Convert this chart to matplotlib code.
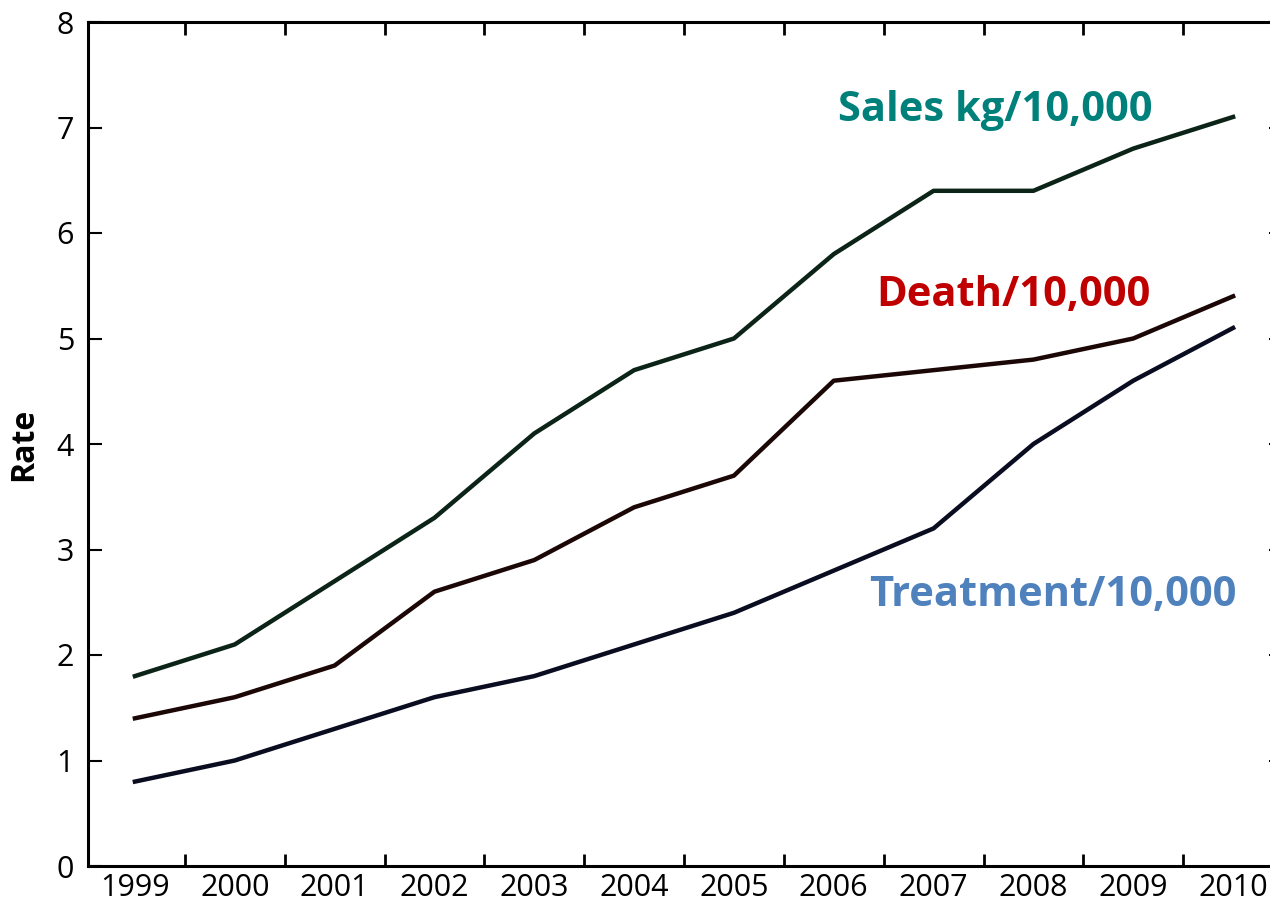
import numpy as np
import matplotlib.pyplot as plt
from matplotlib.ticker import FixedLocator, NullFormatter

years = ['1999', '2000', '2001', '2002', '2003', '2004',
         '2005', '2006', '2007', '2008', '2009', '2010']
sales = [1.8, 2.1, 2.7, 3.3, 4.1, 4.7, 5.0, 5.8, 6.4, 6.4, 6.8, 7.1]
death = [1.4, 1.6, 1.9, 2.6, 2.9, 3.4, 3.7, 4.6, 4.7, 4.8, 5.0, 5.4]
treatment = [0.8, 1.0, 1.3, 1.6, 1.8, 2.1, 2.4, 2.8, 3.2, 4.0, 4.6, 5.1]


def plot_chart():
    fig = plt.figure(figsize=(12.7, 9.06), dpi=100)
    ax = fig.add_axes([88 / 1270, 1 - 866 / 906, (1283 - 88) / 1270, (866 - 22) / 906])

    x = np.arange(len(years))
    lw = 3.2
    ax.plot(x, sales, color='#0c2418', lw=lw, solid_joinstyle='round')
    ax.plot(x, death, color='#1c0707', lw=lw, solid_joinstyle='round')
    ax.plot(x, treatment, color='#0a0c20', lw=lw, solid_joinstyle='round')

    # series labels
    lbl = dict(fontsize=30, fontweight='bold', family='Open Sans',
               ha='center', va='center')
    ax.text(8.62, 7.16, 'Sales kg/10,000', color='#00807a', **lbl)
    ax.text(8.80, 5.41, 'Death/10,000', color='#c00000', **lbl)
    ax.text(9.19, 2.56, 'Treatment/10,000', color='#4f81bd', **lbl)

    ax.set_xlim(-0.47, 11.5)
    ax.set_ylim(0, 8)

    # ticks sit between years, labels at the year centres
    ax.xaxis.set_major_locator(FixedLocator(x[:-1] + 0.5))
    ax.xaxis.set_major_formatter(NullFormatter())
    ax.xaxis.set_minor_locator(FixedLocator(x))
    ax.set_xticklabels(years, minor=True)
    ax.tick_params(axis='x', which='major', direction='in', length=9, width=2,
                   top=True, bottom=True)
    ax.tick_params(axis='x', which='minor', length=0, pad=5, labelsize=22)

    ax.set_yticks(range(0, 9))
    ax.tick_params(axis='y', direction='in', length=10, width=1.5,
                   left=True, right=True, labelsize=22, pad=10)

    for lab in ax.get_xticklabels(minor=True) + ax.get_yticklabels():
        lab.set_family('Open Sans')
        lab.set_fontweight('medium')

    for s in ax.spines.values():
        s.set_linewidth(2.2)

    ax.set_ylabel('Rate', fontsize=23, fontweight='bold', family='Open Sans',
                  labelpad=12)

    fig.savefig('out.png', dpi=100)


def main():
    plot_chart()


if __name__ == "__main__":
    main()
